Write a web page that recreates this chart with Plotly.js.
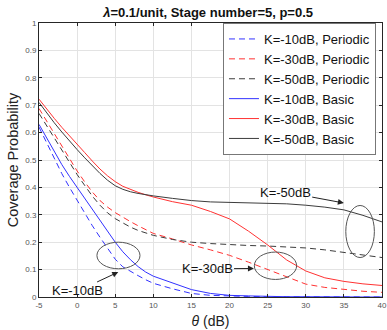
<!DOCTYPE html>
<html>
<head>
<meta charset="utf-8">
<script src="https://cdn.plot.ly/plotly-3.0.1.min.js"></script>
<style>
  html, body { margin: 0; padding: 0; background: #fff; }
  #plot { width: 387px; height: 330px; }
</style>
</head>
<body>
<div id="plot"></div>
<script>
// SINR threshold (dB)
const theta = [-5, -4, -3, -2, -1, 0, 1, 2, 3, 4, 5, 6, 7, 8, 9, 10, 12.5, 15, 17.5, 20, 22.5, 25, 27.5, 30, 32.5, 35, 37.5, 40];

// periodic scheme
const k10Periodic = [0.62, 0.562, 0.505, 0.45, 0.4, 0.352, 0.305, 0.26, 0.218, 0.177, 0.138, 0.11, 0.093, 0.078, 0.063, 0.05, 0.03, 0.013, 0.006, 0.003, 0.002, 0.001, 0.001, 0, 0, 0, 0, 0];
const k30Periodic = [0.688, 0.642, 0.596, 0.55, 0.505, 0.46, 0.42, 0.383, 0.352, 0.328, 0.308, 0.29, 0.275, 0.26, 0.245, 0.232, 0.212, 0.19, 0.172, 0.152, 0.127, 0.1, 0.072, 0.047, 0.035, 0.027, 0.021, 0.017];
const k50Periodic = [0.67, 0.625, 0.58, 0.535, 0.49, 0.447, 0.407, 0.368, 0.335, 0.307, 0.286, 0.269, 0.255, 0.243, 0.233, 0.225, 0.21, 0.2, 0.195, 0.191, 0.188, 0.186, 0.183, 0.179, 0.172, 0.163, 0.154, 0.144];

// basic scheme
const k10Basic = [0.63, 0.58, 0.53, 0.483, 0.44, 0.4, 0.36, 0.32, 0.278, 0.238, 0.2, 0.165, 0.136, 0.111, 0.091, 0.076, 0.052, 0.027, 0.013, 0.006, 0.004, 0.002, 0.001, 0.001, 0, 0, 0, 0];
const k30Basic = [0.722, 0.686, 0.652, 0.619, 0.587, 0.557, 0.527, 0.496, 0.467, 0.442, 0.421, 0.404, 0.392, 0.382, 0.373, 0.365, 0.348, 0.335, 0.312, 0.285, 0.24, 0.19, 0.135, 0.095, 0.07, 0.057, 0.048, 0.042];
const k50Basic = [0.71, 0.671, 0.636, 0.602, 0.569, 0.538, 0.508, 0.478, 0.451, 0.426, 0.406, 0.393, 0.384, 0.378, 0.373, 0.369, 0.36, 0.352, 0.347, 0.345, 0.344, 0.343, 0.34, 0.335, 0.328, 0.318, 0.298, 0.274];

const xTicks = [-5, 0, 5, 10, 15, 20, 25, 30, 35, 40];
const xTickText = ['-5', '0', '5', '10', '15', '20', '25', '30', '35', '40'];
const yTicks = [0, 0.1, 0.2, 0.3, 0.4, 0.5, 0.6, 0.7, 0.8, 0.9, 1];
const yTickText = ['0', '0.1', '0.2', '0.3', '0.4', '0.5', '0.6', '0.7', '0.8', '0.9', '1'];

const BLUE = 'rgb(50,50,255)', RED = 'rgb(255,50,50)', BLACK = 'rgb(60,60,60)';
const DASH = '6px,4px';
const FONT = 'Liberation Sans, Arial, sans-serif';

function line(y, name, color, dash) {
  return { x: theta, y: y, mode: 'lines', name: name,
           line: { color: color, width: 1, dash: dash } };
}

const traces = [
  line(k10Periodic, 'K=-10dB, Periodic', BLUE, DASH),
  line(k30Periodic, 'K=-30dB, Periodic', RED, DASH),
  line(k50Periodic, 'K=-50dB, Periodic', BLACK, DASH),
  line(k10Basic, 'K=-10dB, Basic', BLUE, 'solid'),
  line(k30Basic, 'K=-30dB, Basic', RED, 'solid'),
  line(k50Basic, 'K=-50dB, Basic', BLACK, 'solid')
];

const ell = { type: 'circle', xref: 'x', yref: 'y', line: { color: '#555', width: 1 } };

const ann = (x, y, ax, ay, text) => ({
  x: x, y: y, ax: ax, ay: ay, axref: 'x', ayref: 'y', xref: 'x', yref: 'y',
  text: text, showarrow: true, arrowhead: 2, arrowsize: 1.2, arrowwidth: 1,
  arrowcolor: '#222', standoff: 0, startstandoff: 0,
  font: { family: FONT, size: 13, color: '#111' }
});

const axisCommon = {
  showline: true, linecolor: '#262626', linewidth: 1, mirror: 'ticks',
  ticks: 'inside', ticklen: 3, tickcolor: '#262626',
  showgrid: true, gridcolor: '#e3e3e3', gridwidth: 1, zeroline: false,
  tickfont: { family: FONT, size: 8, color: '#555' }
};

Plotly.newPlot('plot', traces, {
  width: 387, height: 330,
  margin: { l: 39, r: 5, t: 23, b: 33 },
  title: { text: '<b><i>λ</i>=0.1/unit, Stage number=5, p=0.5</b>',
           font: { family: FONT, size: 13, color: '#111' },
           xref: 'paper', x: 0.493, xanchor: 'center', y: 0.962, yanchor: 'middle' },
  xaxis: Object.assign({}, axisCommon, {
    range: [-5, 40], tickvals: xTicks, ticktext: xTickText,
    title: { text: '<i>θ</i> (dB)', font: { family: FONT, size: 14, color: '#222' }, standoff: 7 }
  }),
  yaxis: Object.assign({}, axisCommon, {
    range: [0, 1], tickvals: yTicks, ticktext: yTickText,
    title: { text: 'Coverage Probability', font: { family: FONT, size: 14.5, color: '#222' }, standoff: 3 }
  }),
  legend: {
    x: 0.9825, xanchor: 'right', y: 1.0, yanchor: 'top',
    bgcolor: '#fff', bordercolor: '#777', borderwidth: 1,
    font: { family: FONT, size: 13, color: '#111' },
    tracegroupgap: 0, itemwidth: 30
  },
  shapes: [
    Object.assign({}, ell, { x0: 2.6, x1: 8.25, y0: 0.103, y1: 0.2 }),
    Object.assign({}, ell, { x0: 23.25, x1: 28.8, y0: 0.064, y1: 0.164 }),
    Object.assign({}, ell, { x0: 35.25, x1: 39.0, y0: 0.144, y1: 0.334 })
  ],
  annotations: [
    ann(5.4, 0.091, 0.1, 0.022, 'K=-10dB'),
    ann(23.2, 0.104, 17.05, 0.103, 'K=-30dB'),
    ann(35.0, 0.343, 27.3, 0.383, 'K=-50dB')
  ],
  plot_bgcolor: '#fff', paper_bgcolor: '#fff'
}, { displayModeBar: false, staticPlot: true });
</script>
</body>
</html>
